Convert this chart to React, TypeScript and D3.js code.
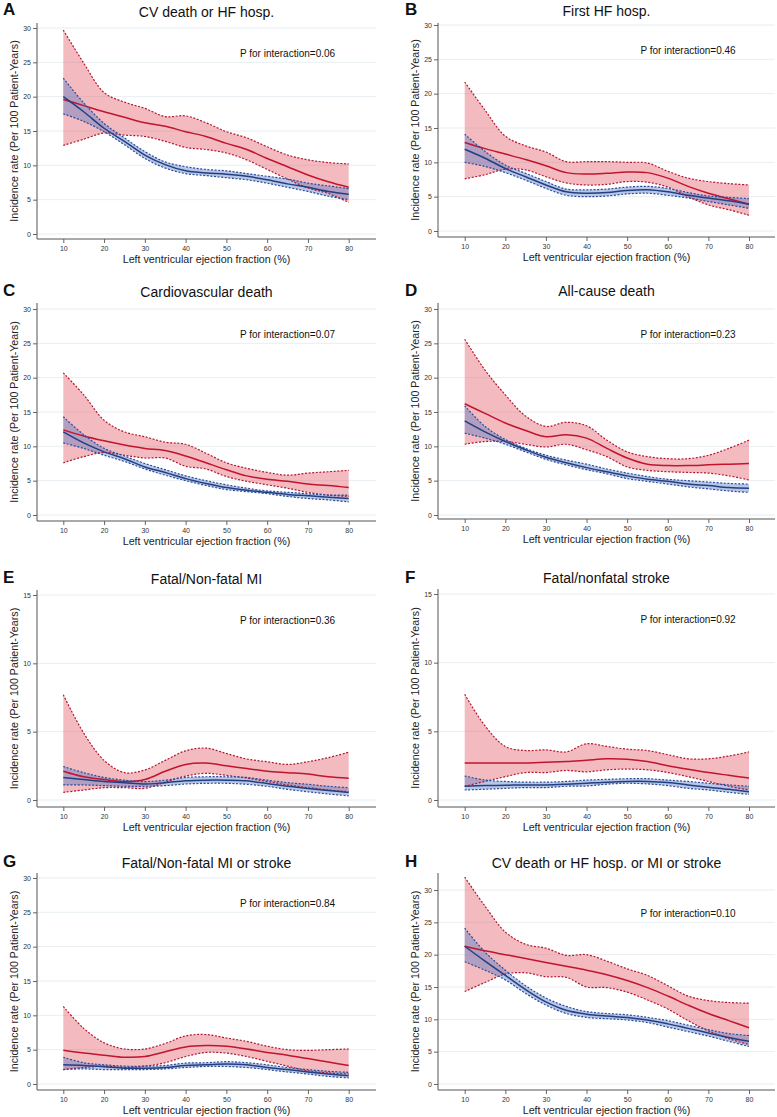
import { useEffect, useRef } from "react";
import * as d3 from "d3";

// ---- data ----
const LVEF = [10, 15, 20, 25, 30, 35, 40, 45, 50, 55, 60, 65, 70, 75, 80];
const X_TICKS = [10, 20, 30, 40, 50, 60, 70, 80];
const Y_TICKS_30 = [0, 5, 10, 15, 20, 25, 30];
const Y_TICKS_15 = [0, 5, 10, 15];

const LETTERS = ["A", "B", "C", "D", "E", "F", "G", "H"];
const TITLES = [
  "CV death or HF hosp.",
  "First HF hosp.",
  "Cardiovascular death",
  "All-cause death",
  "Fatal/Non-fatal MI",
  "Fatal/nonfatal stroke",
  "Fatal/Non-fatal MI or stroke",
  "CV death or HF hosp. or MI or stroke",
];
const P_VALUES = ["0.06", "0.46", "0.07", "0.23", "0.36", "0.92", "0.84", "0.10"];
const X_TITLE = "Left ventricular ejection fraction (%)";
const Y_TITLE = "Incidence rate (Per 100 Patient-Years)";

// A: CV death or HF hosp.
const A_RED = [19.6, 18.7, 17.8, 17.0, 16.2, 15.7, 14.9, 14.2, 13.2, 12.3, 11.0, 9.8, 8.6, 7.6, 6.8];
const A_RED_HI = [29.7, 24.9, 20.6, 19.2, 18.3, 17.1, 17.2, 16.2, 14.9, 14.0, 12.7, 11.5, 10.8, 10.4, 10.2];
const A_RED_LO = [12.9, 13.8, 14.7, 14.4, 14.2, 13.5, 12.6, 12.3, 11.8, 10.8, 9.4, 8.0, 6.7, 5.9, 4.6];
const A_BLUE = [20.0, 17.8, 15.4, 13.5, 11.5, 10.1, 9.2, 8.9, 8.7, 8.4, 7.9, 7.3, 6.8, 6.2, 5.8];
const A_BLUE_HI = [22.7, 19.1, 16.1, 14.0, 12.0, 10.5, 9.8, 9.4, 9.2, 8.8, 8.4, 8.0, 7.4, 7.0, 6.6];
const A_BLUE_LO = [17.5, 16.4, 14.9, 13.0, 11.0, 9.6, 8.8, 8.5, 8.2, 7.9, 7.4, 6.8, 6.2, 5.5, 5.0];

// B: First HF hosp.
const B_RED = [12.9, 12.0, 11.2, 10.4, 9.5, 8.5, 8.3, 8.4, 8.6, 8.5, 7.7, 6.5, 5.5, 4.7, 3.9];
const B_RED_HI = [21.7, 17.6, 13.8, 12.4, 11.5, 10.1, 10.1, 10.1, 10.0, 9.9, 8.7, 7.7, 7.2, 6.9, 6.7];
const B_RED_LO = [7.6, 8.2, 9.0, 8.9, 7.9, 7.0, 6.7, 6.8, 7.2, 7.1, 6.4, 5.0, 3.8, 3.1, 2.3];
const B_BLUE = [11.9, 10.6, 9.1, 7.9, 6.7, 5.7, 5.5, 5.6, 5.9, 6.0, 5.7, 5.2, 4.8, 4.4, 3.9];
const B_BLUE_HI = [14.1, 11.6, 9.6, 8.4, 7.2, 6.1, 6.0, 6.1, 6.4, 6.5, 6.2, 5.6, 5.1, 4.9, 4.7];
const B_BLUE_LO = [10.0, 9.4, 8.5, 7.4, 6.2, 5.2, 5.0, 5.1, 5.4, 5.5, 5.2, 4.8, 4.3, 3.8, 3.3];

// C: Cardiovascular death
const C_RED = [12.4, 11.5, 10.8, 10.2, 9.7, 9.4, 8.6, 7.6, 6.6, 5.7, 5.2, 4.9, 4.5, 4.3, 4.0];
const C_RED_HI = [20.7, 17.5, 13.8, 12.1, 11.4, 10.6, 10.3, 9.0, 7.6, 6.8, 6.2, 5.8, 6.1, 6.3, 6.5];
const C_RED_LO = [7.6, 8.5, 9.1, 8.7, 8.3, 8.3, 7.1, 6.7, 5.6, 4.9, 4.4, 3.9, 3.3, 2.9, 2.7];
const C_BLUE = [12.1, 10.5, 9.2, 8.2, 7.0, 6.2, 5.3, 4.6, 4.0, 3.6, 3.3, 3.0, 2.8, 2.6, 2.4];
const C_BLUE_HI = [14.3, 11.7, 9.7, 8.6, 7.5, 6.6, 5.7, 5.0, 4.4, 3.9, 3.5, 3.3, 3.1, 2.9, 2.9];
const C_BLUE_LO = [10.5, 9.7, 8.7, 7.8, 6.7, 5.8, 5.0, 4.3, 3.7, 3.4, 3.1, 2.7, 2.4, 2.2, 1.9];

// D: All-cause death
const D_RED = [16.2, 14.8, 13.4, 12.3, 11.4, 11.7, 11.2, 9.7, 8.3, 7.4, 7.2, 7.2, 7.3, 7.4, 7.5];
const D_RED_HI = [25.6, 21.1, 17.5, 14.4, 12.9, 13.5, 13.0, 10.9, 9.2, 8.5, 8.2, 8.2, 8.7, 9.7, 10.9];
const D_RED_LO = [10.3, 10.7, 10.7, 10.3, 9.9, 10.3, 9.5, 8.5, 7.0, 6.5, 6.3, 6.2, 6.1, 5.7, 5.1];
const D_BLUE = [13.7, 12.1, 10.7, 9.5, 8.4, 7.6, 6.9, 6.3, 5.7, 5.2, 4.9, 4.5, 4.3, 4.0, 3.9];
const D_BLUE_HI = [15.9, 12.9, 11.0, 9.7, 8.7, 8.0, 7.4, 6.7, 6.1, 5.6, 5.2, 5.0, 4.8, 4.6, 4.5];
const D_BLUE_LO = [11.9, 11.2, 10.3, 9.2, 8.1, 7.3, 6.6, 6.0, 5.3, 4.9, 4.5, 4.1, 3.8, 3.5, 3.3];

// E: Fatal/Non-fatal MI
const E_RED = [2.1, 1.7, 1.5, 1.35, 1.5, 2.1, 2.6, 2.7, 2.5, 2.3, 2.1, 2.0, 1.9, 1.7, 1.6];
const E_RED_HI = [7.7, 4.9, 2.9, 2.0, 2.2, 2.9, 3.6, 3.8, 3.4, 3.0, 2.8, 2.6, 2.8, 3.1, 3.5];
const E_RED_LO = [0.56, 0.73, 0.9, 0.9, 0.85, 1.3, 1.75, 1.95, 1.8, 1.6, 1.35, 1.1, 0.9, 0.73, 0.6];
const E_BLUE = [1.65, 1.5, 1.35, 1.27, 1.17, 1.27, 1.4, 1.45, 1.45, 1.4, 1.2, 1.0, 0.85, 0.7, 0.55];
const E_BLUE_HI = [2.45, 2.0, 1.65, 1.45, 1.35, 1.45, 1.65, 1.7, 1.7, 1.65, 1.45, 1.27, 1.15, 1.0, 0.9];
const E_BLUE_LO = [1.1, 1.1, 1.05, 1.0, 1.0, 1.05, 1.17, 1.22, 1.22, 1.15, 1.0, 0.78, 0.6, 0.44, 0.3];

// F: Fatal/nonfatal stroke
const F_RED = [2.7, 2.7, 2.7, 2.7, 2.75, 2.8, 2.9, 3.0, 2.97, 2.8, 2.5, 2.24, 2.0, 1.8, 1.6];
const F_RED_HI = [7.7, 5.4, 3.9, 3.6, 3.65, 3.5, 4.1, 3.9, 3.7, 3.6, 3.3, 3.0, 3.0, 3.2, 3.5];
const F_RED_LO = [1.0, 1.35, 1.7, 2.0, 2.0, 2.15, 2.05, 2.2, 2.25, 2.2, 2.0, 1.7, 1.35, 1.0, 0.73];
const F_BLUE = [1.0, 1.05, 1.07, 1.1, 1.1, 1.15, 1.22, 1.3, 1.35, 1.35, 1.27, 1.1, 0.93, 0.78, 0.6];
const F_BLUE_HI = [1.75, 1.45, 1.35, 1.3, 1.3, 1.35, 1.45, 1.5, 1.55, 1.55, 1.45, 1.35, 1.22, 1.1, 1.0];
const F_BLUE_LO = [0.73, 0.78, 0.85, 0.9, 0.9, 1.0, 1.02, 1.15, 1.22, 1.17, 1.05, 0.85, 0.73, 0.56, 0.41];

// G: Fatal/Non-fatal MI or stroke
const G_RED = [4.9, 4.5, 4.2, 3.9, 4.0, 4.7, 5.4, 5.6, 5.5, 5.1, 4.6, 4.2, 3.7, 3.2, 2.7];
const G_RED_HI = [11.3, 8.1, 6.0, 5.1, 5.1, 5.9, 7.0, 7.2, 6.7, 6.2, 5.5, 5.0, 4.9, 5.0, 5.1];
const G_RED_LO = [2.1, 2.4, 2.6, 2.4, 2.6, 3.1, 4.0, 4.6, 4.5, 4.0, 3.3, 2.6, 1.9, 1.6, 1.45];
const G_BLUE = [2.8, 2.7, 2.5, 2.3, 2.3, 2.4, 2.7, 2.8, 2.9, 2.8, 2.4, 2.1, 1.75, 1.45, 1.2];
const G_BLUE_HI = [3.9, 3.1, 2.8, 2.6, 2.6, 2.7, 3.05, 3.1, 3.25, 3.1, 2.8, 2.4, 2.1, 1.85, 1.7];
const G_BLUE_LO = [2.1, 2.2, 2.1, 2.1, 2.1, 2.2, 2.4, 2.55, 2.55, 2.4, 2.1, 1.75, 1.45, 1.1, 0.9];

// H: CV death or HF hosp. or MI or stroke
const H_RED = [21.3, 20.6, 20.0, 19.4, 18.8, 18.2, 17.6, 16.9, 16.0, 14.9, 13.6, 12.2, 10.9, 9.8, 8.7];
const H_RED_HI = [32.0, 27.5, 23.5, 21.6, 21.0, 19.9, 20.0, 19.0, 17.8, 16.8, 15.2, 13.6, 12.9, 12.6, 12.5];
const H_RED_LO = [14.3, 15.7, 17.0, 17.2, 16.6, 16.5, 15.0, 14.9, 14.2, 13.0, 11.6, 9.8, 8.2, 7.0, 6.1];
const H_BLUE = [21.3, 19.0, 16.8, 14.6, 12.7, 11.4, 10.8, 10.5, 10.3, 9.9, 9.3, 8.6, 7.9, 7.2, 6.6];
const H_BLUE_HI = [24.1, 20.4, 17.6, 15.2, 13.3, 12.0, 11.2, 10.9, 10.7, 10.3, 9.8, 9.1, 8.4, 7.8, 7.5];
const H_BLUE_LO = [18.9, 17.6, 16.1, 14.0, 12.2, 10.9, 10.3, 10.1, 9.9, 9.5, 8.8, 8.1, 7.4, 6.6, 5.8];

const SERIES = [
  [A_RED, A_RED_LO, A_RED_HI, A_BLUE, A_BLUE_LO, A_BLUE_HI],
  [B_RED, B_RED_LO, B_RED_HI, B_BLUE, B_BLUE_LO, B_BLUE_HI],
  [C_RED, C_RED_LO, C_RED_HI, C_BLUE, C_BLUE_LO, C_BLUE_HI],
  [D_RED, D_RED_LO, D_RED_HI, D_BLUE, D_BLUE_LO, D_BLUE_HI],
  [E_RED, E_RED_LO, E_RED_HI, E_BLUE, E_BLUE_LO, E_BLUE_HI],
  [F_RED, F_RED_LO, F_RED_HI, F_BLUE, F_BLUE_LO, F_BLUE_HI],
  [G_RED, G_RED_LO, G_RED_HI, G_BLUE, G_BLUE_LO, G_BLUE_HI],
  [H_RED, H_RED_LO, H_RED_HI, H_BLUE, H_BLUE_LO, H_BLUE_HI],
];
const Y_TICKS = [Y_TICKS_30, Y_TICKS_30, Y_TICKS_30, Y_TICKS_30, Y_TICKS_15, Y_TICKS_15, Y_TICKS_30, Y_TICKS_30];

// ---- layout ----
const W = 777;
const H = 1117;
const FONT = "'Liberation Sans', Arial, Helvetica, sans-serif";

const COLS = [
  { axis: 37, x10: 63.3, x80: 348.7, right: 376, letterX: 3 },
  { axis: 438, x10: 464.7, x80: 749, right: 775, letterX: 405 },
];
// top/bottom of plot frame, pixel of 0 and of top tick
const FRAMES = [
  { top: 23, bottom: 239, y0: 234, yTop: 28, titleY: 17, letterY: 15 },
  { top: 23, bottom: 237, y0: 231, yTop: 25, titleY: 16, letterY: 15 },
  { top: 303, bottom: 521, y0: 515, yTop: 309, titleY: 297, letterY: 296 },
  { top: 303, bottom: 519, y0: 515, yTop: 309, titleY: 296, letterY: 296 },
  { top: 590, bottom: 807, y0: 800, yTop: 595, titleY: 584, letterY: 583 },
  { top: 589, bottom: 807, y0: 800, yTop: 594, titleY: 583, letterY: 583 },
  { top: 873, bottom: 1090, y0: 1084, yTop: 878, titleY: 868, letterY: 867 },
  { top: 873, bottom: 1090, y0: 1084, yTop: 890, titleY: 868, letterY: 867 },
];

const RED = "#c2132f";
const RED_DASH = "#b3172f";
const RED_FILL = "rgba(226, 84, 98, 0.4)";
const BLUE = "#233f80";
const BLUE_DASH = "#2a4c9c";
const BLUE_FILL = "rgba(78, 116, 196, 0.4)";

export default function App() {
  const ref = useRef<SVGSVGElement | null>(null);

  useEffect(() => {
    const el = ref.current;
    if (!el) return;
    const svg = d3.select(el);
    svg.selectAll("*").remove();

    FRAMES.forEach((f, i) => {
      const c = COLS[i % 2];
      const ticks = Y_TICKS[i];
      const tickMax = ticks[ticks.length - 1];
      const [red, redLo, redHi, blue, blueLo, blueHi] = SERIES[i];

      const x = d3.scaleLinear().domain([10, 80]).range([c.x10, c.x80]);
      const y = d3.scaleLinear().domain([0, tickMax]).range([f.y0, f.yTop]);

      const g = svg.append("g");

      // gridlines
      g.selectAll("line.grid")
        .data(ticks)
        .join("line")
        .attr("x1", c.axis)
        .attr("x2", c.right)
        .attr("y1", (d) => y(d))
        .attr("y2", (d) => y(d))
        .attr("stroke", "#e8eef2")
        .attr("stroke-width", 1);

      const curve = d3.curveCatmullRom.alpha(0.5);
      const band = (lo: number[], hi: number[]) =>
        d3
          .area<number>()
          .x((_, j) => x(LVEF[j]))
          .y0((_, j) => y(lo[j]))
          .y1((_, j) => y(hi[j]))
          .curve(curve)(LVEF);
      const line = (vals: number[]) =>
        d3
          .line<number>()
          .x((_, j) => x(LVEF[j]))
          .y((_, j) => y(vals[j]))
          .curve(curve)(LVEF);

      g.append("path").attr("d", band(redLo, redHi)).attr("fill", RED_FILL);
      g.append("path").attr("d", band(blueLo, blueHi)).attr("fill", BLUE_FILL);

      [redLo, redHi].forEach((v) =>
        g.append("path")
          .attr("d", line(v))
          .attr("fill", "none")
          .attr("stroke", RED_DASH)
          .attr("stroke-width", 1.2)
          .attr("stroke-dasharray", "2,1.6")
      );
      g.append("path")
        .attr("d", line(red))
        .attr("fill", "none")
        .attr("stroke", RED)
        .attr("stroke-width", 1.5);

      [blueLo, blueHi].forEach((v) =>
        g.append("path")
          .attr("d", line(v))
          .attr("fill", "none")
          .attr("stroke", BLUE_DASH)
          .attr("stroke-width", 1.2)
          .attr("stroke-dasharray", "2,1.6")
      );
      g.append("path")
        .attr("d", line(blue))
        .attr("fill", "none")
        .attr("stroke", BLUE)
        .attr("stroke-width", 1.5);

      // axes
      const yAx = g.append("g")
        .attr("transform", `translate(${c.axis},0)`)
        .call(d3.axisLeft(y).tickValues(ticks).tickSize(4).tickPadding(2).tickFormat(d3.format("d")));
      const xAx = g.append("g")
        .attr("transform", `translate(0,${f.bottom})`)
        .call(d3.axisBottom(x).tickValues(X_TICKS).tickSize(4).tickPadding(3).tickFormat(d3.format("d")));
      [yAx, xAx].forEach((ax) => {
        ax.select(".domain").remove();
        ax.selectAll("line").attr("stroke", "#555").attr("stroke-width", 0.9);
        ax.selectAll("text")
          .attr("font-size", 7)
          .attr("font-family", FONT)
          .attr("fill", "#333");
      });

      g.append("line")
        .attr("x1", c.axis).attr("x2", c.axis)
        .attr("y1", f.top).attr("y2", f.bottom)
        .attr("stroke", "#555").attr("stroke-width", 1);
      g.append("line")
        .attr("x1", c.axis).attr("x2", c.right)
        .attr("y1", f.bottom).attr("y2", f.bottom)
        .attr("stroke", "#555").attr("stroke-width", 1);

      // texts
      const midX = (c.axis + c.right) / 2;
      g.append("text")
        .attr("x", midX)
        .attr("y", f.titleY)
        .attr("text-anchor", "middle")
        .attr("font-family", FONT)
        .attr("font-size", 14)
        .attr("fill", "#111")
        .text(TITLES[i]);

      g.append("text")
        .attr("x", c.letterX)
        .attr("y", f.letterY)
        .attr("font-family", FONT)
        .attr("font-size", 17)
        .attr("font-weight", "bold")
        .attr("fill", "#111")
        .text(LETTERS[i]);

      g.append("text")
        .attr("x", x(65))
        .attr("y", y(tickMax * 0.86))
        .attr("text-anchor", "middle")
        .attr("font-family", FONT)
        .attr("font-size", 10)
        .attr("fill", "#111")
        .text(`P for interaction=${P_VALUES[i]}`);

      g.append("text")
        .attr("x", midX)
        .attr("y", f.bottom + 24)
        .attr("text-anchor", "middle")
        .attr("font-family", FONT)
        .attr("font-size", 10.7)
        .attr("fill", "#222")
        .text(X_TITLE);

      g.append("text")
        .attr("transform", `translate(${c.axis - 19},${(f.top + f.bottom) / 2}) rotate(-90)`)
        .attr("text-anchor", "middle")
        .attr("font-family", FONT)
        .attr("font-size", 10.7)
        .attr("fill", "#222")
        .text(Y_TITLE);
    });
  }, []);

  return (
    <div style={{ position: "absolute", left: 0, top: 0, width: W, height: H, background: "#fff" }}>
      <svg ref={ref} width={W} height={H} />
    </div>
  );
}
